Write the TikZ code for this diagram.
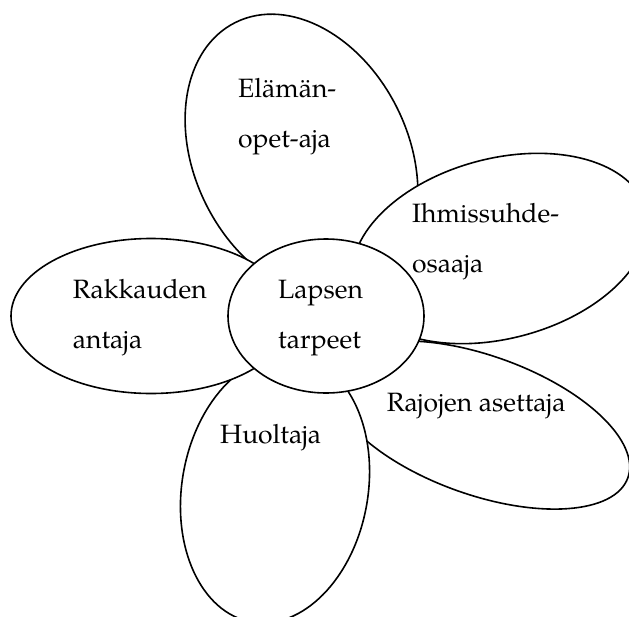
\documentclass[tikz,border=0pt]{standalone}
\usepackage{fontspec}
\setmainfont{TeX Gyre Pagella}
\usetikzlibrary{shapes.geometric}
\begin{document}
\begin{tikzpicture}[x=1pt,y=-1pt,
  petal/.style={ellipse, draw=black, fill=white, line width=1.6pt, inner sep=0pt, outer sep=0pt},
  lbl/.style={anchor=base west, inner sep=0pt, font=\fontsize{26.5}{30}\selectfont}]
\useasboundingbox (0,0) rectangle (629,616);
\clip (0,0) rectangle (629,616);
% petals
\node[petal, minimum width=214pt, minimum height=298pt, rotate=26.2] (ptop) at (301.5,156) {};
\node[petal, minimum width=302pt, minimum height=180pt, rotate=14.75] (pihm) at (500,248.5) {};
\node[petal, minimum width=314pt, minimum height=139pt, rotate=-19.65] (praj) at (480,425) {};
\node[petal, minimum width=186pt, minimum height=270pt, rotate=-10] (phuo) at (275,489) {};
\node[petal, minimum width=280pt, minimum height=155pt] (prak) at (151,316) {};
\node[petal, minimum width=196pt, minimum height=154pt] (center) at (326,316) {};
% labels
\node[lbl] (t1a) at (238,97) {Elämän-};
\node[lbl] (t1b) at (238,147) {opet-aja};
\node[lbl] (t2a) at (412,222) {Ihmissuhde-};
\node[lbl] (t2b) at (412,272) {osaaja};
\node[lbl] (t3a) at (72.7,298) {Rakkauden};
\node[lbl] (t3b) at (72.7,348) {antaja};
\node[lbl] (t4a) at (278,298) {Lapsen};
\node[lbl] (t4b) at (278,348) {tarpeet};
\node[lbl] (t5) at (386.7,411) {Rajojen asettaja};
\node[lbl] (t6) at (220,443.3) {Huoltaja};
\end{tikzpicture}
\end{document}
